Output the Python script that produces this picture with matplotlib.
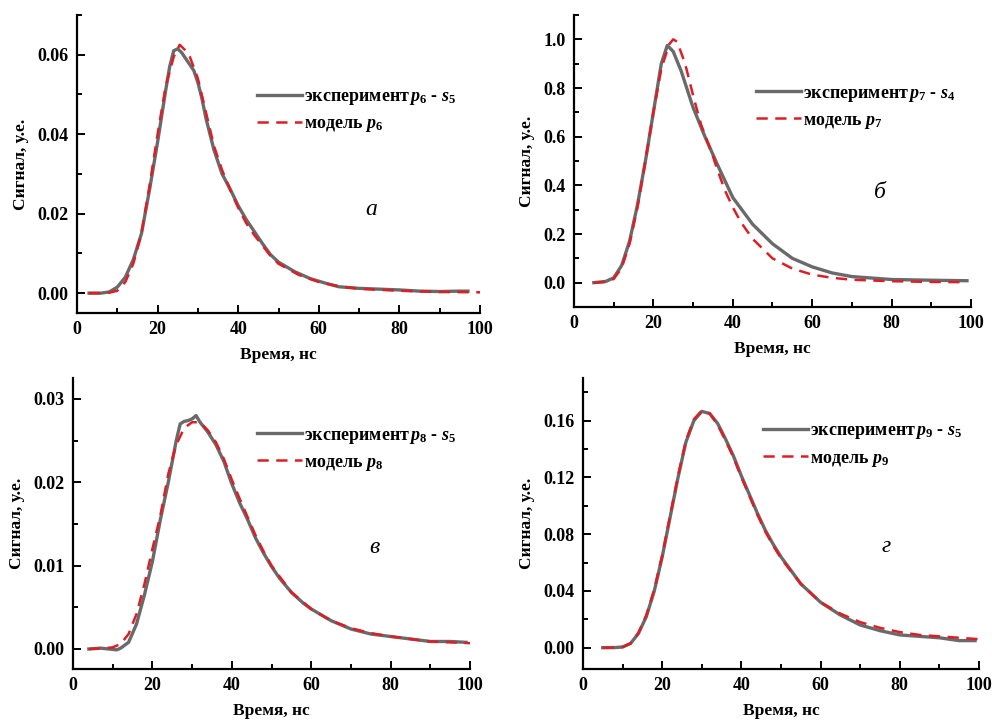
import matplotlib
matplotlib.use("Agg")
import matplotlib.pyplot as plt
from matplotlib.ticker import MultipleLocator, FormatStrFormatter

plt.rcParams['font.family'] = ['Liberation Serif', 'DejaVu Serif']
plt.rcParams['font.weight'] = 'bold'
plt.rcParams['mathtext.fontset'] = 'custom'
plt.rcParams['mathtext.rm'] = 'Liberation Serif:bold'
plt.rcParams['mathtext.it'] = 'Liberation Serif:italic:bold'
plt.rcParams['mathtext.bf'] = 'Liberation Serif:bold'

# panel a
t_a_exp = [3, 6, 8, 10, 12, 14, 16, 18, 20, 22, 23, 24, 25, 26, 27, 28, 29, 30, 31, 32, 34, 36, 38,
           40, 42, 44, 46, 48, 50, 52, 54, 56, 58, 60, 62, 65, 70, 75, 80, 85, 90, 95, 97]
y_a_exp = [0, 0, 0.0003, 0.0015, 0.004, 0.0085, 0.015, 0.026, 0.038, 0.051, 0.057, 0.061, 0.0615,
           0.0605, 0.059, 0.0575, 0.056, 0.053, 0.049, 0.044, 0.036, 0.0300, 0.0262, 0.022, 0.0185,
           0.0155, 0.0125, 0.0097, 0.0078, 0.0066, 0.0054, 0.0045, 0.0036, 0.003, 0.0024, 0.0016,
           0.0012, 0.001, 0.0008, 0.0005, 0.0004, 0.0005, 0.0005]
t_a_mod = [3, 6, 8, 10, 12, 14, 16, 18, 20, 22, 24, 25.5, 27, 28, 30, 32, 34, 36, 38, 40, 42, 44,
           46, 48, 50, 55, 60, 65, 70, 80, 90, 100]
y_a_mod = [0, 0, 0.0001, 0.0006, 0.0028, 0.0075, 0.015, 0.027, 0.04, 0.052, 0.0595, 0.0625, 0.061,
           0.0595, 0.054, 0.0455, 0.037, 0.031, 0.026, 0.0215, 0.0176, 0.0146, 0.012, 0.0094, 0.0074,
           0.0046, 0.0028, 0.0017, 0.0011, 0.0006, 0.0003, 0.0002]

# panel b
t_b_exp = [5, 8, 10, 12, 14, 16, 18, 20, 22, 23.5, 25, 27, 30, 33, 36, 40, 45, 50, 55, 60, 65, 70,
           80, 90, 99]
y_b_exp = [0, 0.005, 0.02, 0.07, 0.17, 0.32, 0.5, 0.7, 0.9, 0.975, 0.95, 0.87, 0.72, 0.6, 0.49,
           0.35, 0.24, 0.16, 0.1, 0.065, 0.04, 0.025, 0.013, 0.01, 0.008]
t_b_mod = [5, 8, 10, 12, 14, 16, 18, 20, 22, 24, 25, 26, 28, 30, 32, 35, 36, 38, 40, 42, 45, 50, 55,
           60, 65, 70, 80, 90, 99]
y_b_mod = [0, 0.003, 0.015, 0.06, 0.16, 0.31, 0.5, 0.7, 0.88, 0.98, 1.0, 0.99, 0.9, 0.77, 0.65,
           0.52, 0.47, 0.38, 0.31, 0.25, 0.18, 0.1, 0.058, 0.033, 0.02, 0.012, 0.006, 0.003, 0.002]

# panel c
t_c_exp = [4, 7, 9, 11, 12, 14, 16, 18, 20, 22, 24, 26, 27, 28, 29, 30, 31, 32, 34, 36, 38, 40, 42,
           44, 46, 48, 50, 52, 55, 58, 60, 65, 70, 75, 80, 85, 90, 95, 99]
y_c_exp = [0, 0.0001, 0.0, -0.0001, 0.0001, 0.0008, 0.003, 0.0065, 0.0105, 0.0155, 0.02, 0.025,
           0.027, 0.0273, 0.0274, 0.0276, 0.028, 0.0272, 0.026, 0.0245, 0.0225, 0.0198, 0.0175,
           0.0155, 0.0133, 0.0115, 0.0099, 0.0085, 0.0068, 0.0055, 0.0048, 0.0034, 0.0024, 0.0018,
           0.0015, 0.0012, 0.0009, 0.0009, 0.0008]
t_c_mod = [4, 8, 10, 12, 14, 16, 18, 20, 22, 24, 26, 28, 30, 32, 34, 36, 38, 40, 42, 44, 46, 48, 50,
           55, 60, 65, 70, 75, 80, 85, 90, 95, 100]
y_c_mod = [0, 0.0001, 0.0002, 0.0006, 0.0018, 0.0042, 0.0078, 0.012, 0.016, 0.021, 0.0245, 0.0265,
           0.0272, 0.0272, 0.0262, 0.0248, 0.0228, 0.0203, 0.018, 0.0158, 0.0136, 0.0117, 0.01,
           0.0068, 0.0048, 0.0034, 0.0025, 0.0019, 0.0015, 0.0012, 0.0009, 0.0008, 0.0007]

# panel d
t_d_exp = [5, 8, 10, 12, 14, 16, 18, 20, 22, 24, 26, 28, 30, 32, 34, 36, 38, 40, 42, 44, 46, 48, 50,
           55, 60, 65, 70, 75, 80, 85, 90, 95, 99]
y_d_exp = [0, 0.0001, 0.0005, 0.003, 0.01, 0.022, 0.04, 0.064, 0.092, 0.12, 0.145, 0.16, 0.1665,
           0.165, 0.158, 0.147, 0.135, 0.121, 0.108, 0.095, 0.083, 0.073, 0.064, 0.045, 0.032,
           0.023, 0.016, 0.012, 0.009, 0.008, 0.007, 0.005, 0.005]
t_d_mod = [5, 8, 10, 12, 14, 16, 18, 20, 22, 24, 26, 28, 30, 32, 34, 36, 38, 40, 42, 44, 46, 48, 50,
           55, 60, 65, 70, 75, 80, 85, 90, 95, 100]
y_d_mod = [0, 0.0001, 0.0005, 0.003, 0.0105, 0.023, 0.041, 0.065, 0.093, 0.121, 0.146, 0.161,
           0.167, 0.165, 0.157, 0.146, 0.134, 0.12, 0.107, 0.094, 0.082, 0.072, 0.063, 0.045,
           0.032, 0.024, 0.018, 0.014, 0.011, 0.009, 0.008, 0.007, 0.006]

panels = [
    dict(pos=[0.0776, 0.5665, 0.4063, 0.4127], te=t_a_exp, ye=y_a_exp, tm=t_a_mod, ym=y_a_mod,
         ylim=(-0.005, 0.070), major=0.02, minor=0.01, fmt='%.2f', letter='а', lxy=(73, 0.021),
         sub='6', s='5', leg=(0.447, 0.678)),
    dict(pos=[0.5786, 0.5748, 0.4002, 0.4044], te=t_b_exp, ye=y_b_exp, tm=t_b_mod, ym=y_b_mod,
         ylim=(-0.1, 1.1), major=0.2, minor=0.1, fmt='%.1f', letter='б', lxy=(77, 0.37),
         sub='7', s='4', leg=(0.458, 0.683)),
    dict(pos=[0.0736, 0.0734, 0.4002, 0.4030], te=t_c_exp, ye=y_c_exp, tm=t_c_mod, ym=y_c_mod,
         ylim=(-0.0024, 0.0325), major=0.01, minor=0.005, fmt='%.2f', letter='в', lxy=(76, 0.0122),
         sub='8', s='5', leg=(0.463, 0.754)),
    dict(pos=[0.5877, 0.0734, 0.3992, 0.4030], te=t_d_exp, ye=y_d_exp, tm=t_d_mod, ym=y_d_mod,
         ylim=(-0.015, 0.19), major=0.04, minor=0.02, fmt='%.2f', letter='г', lxy=(76.5, 0.071),
         sub='9', s='5', leg=(0.455, 0.768)),
]

fig = plt.figure(figsize=(9.92, 7.22), dpi=100)

for p in panels:
    ax = fig.add_axes(p['pos'])
    ax.plot(p['te'], p['ye'], color='#6a6a6a', lw=2.4,
            label='эксперимент$\\,p_{%s}$ - $s_{%s}$' % (p['sub'], p['s']))
    ax.plot(p['tm'], p['ym'], color='#dc1f26', lw=1.8, dashes=(4.5, 3),
            label='модель $p_{%s}$' % p['sub'])
    ax.set_xlim(0, 100)
    ax.set_ylim(*p['ylim'])
    ax.spines['top'].set_visible(False)
    ax.spines['right'].set_visible(False)
    ax.spines['left'].set_linewidth(1.6)
    ax.spines['bottom'].set_linewidth(1.6)
    ax.xaxis.set_major_locator(MultipleLocator(20))
    ax.xaxis.set_minor_locator(MultipleLocator(10))
    ax.yaxis.set_major_locator(MultipleLocator(p['major']))
    ax.yaxis.set_minor_locator(MultipleLocator(p['minor']))
    ax.yaxis.set_major_formatter(FormatStrFormatter(p['fmt']))
    ax.tick_params(which='both', direction='in', width=1.4, labelsize=13)
    ax.tick_params(which='major', length=6, pad=6)
    ax.tick_params(which='minor', length=3.5)
    ax.set_xlabel('Время, нс', fontsize=12.5, fontweight='bold', labelpad=6)
    ax.set_ylabel('Сигнал, у.е.', fontsize=12.5, fontweight='bold', labelpad=6)
    ax.text(p['lxy'][0], p['lxy'][1], p['letter'], fontsize=17, style='italic',
            fontweight='normal', ha='center', va='center')
    ax.legend(loc='center left', bbox_to_anchor=p['leg'], frameon=False, fontsize=13,
              handlelength=2.5, handletextpad=0.1, borderpad=0, borderaxespad=0,
              labelspacing=0.45)

fig.savefig('out.png', dpi=100)
